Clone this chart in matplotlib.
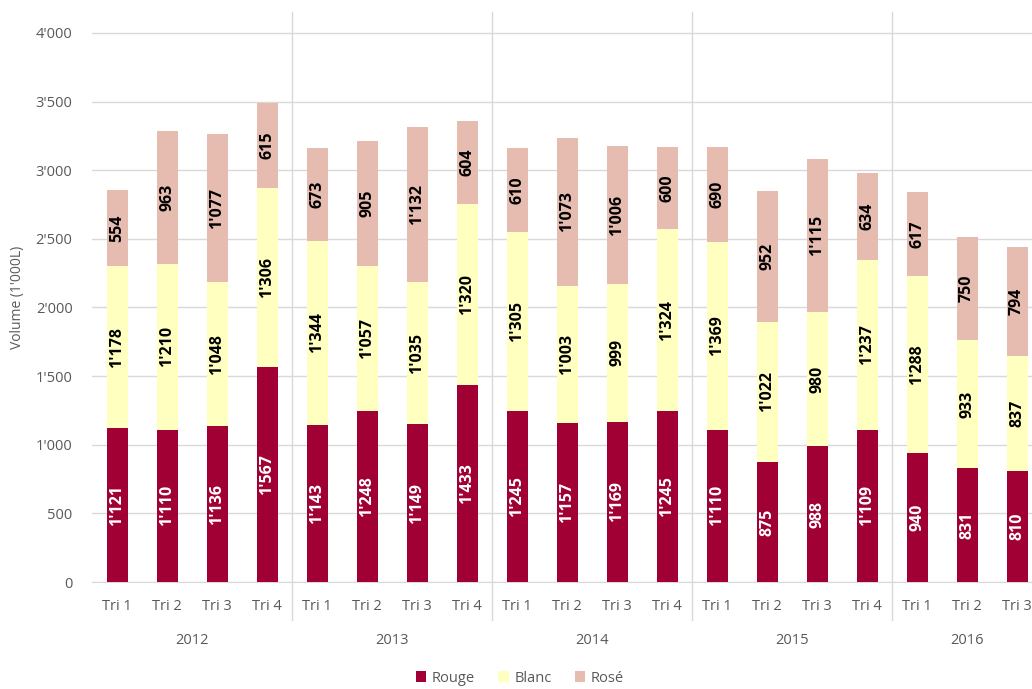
import numpy as np
import matplotlib.pyplot as plt
from matplotlib.patches import Patch
from matplotlib.transforms import blended_transform_factory

years = ["2012", "2013", "2014", "2015", "2016"]
quarters = ["Tri 1", "Tri 2", "Tri 3", "Tri 4"] * 4 + ["Tri 1", "Tri 2", "Tri 3"]

rouge = [1121, 1110, 1136, 1567, 1143, 1248, 1149, 1433, 1245, 1157,
         1169, 1245, 1110, 875, 988, 1109, 940, 831, 810]
blanc = [1178, 1210, 1048, 1306, 1344, 1057, 1035, 1320, 1305, 1003,
         999, 1324, 1369, 1022, 980, 1237, 1288, 933, 837]
rose = [554, 963, 1077, 615, 673, 905, 1132, 604, 610, 1073,
        1006, 600, 690, 952, 1115, 634, 617, 750, 794]

c_rouge, c_blanc, c_rose = "#A00034", "#FFFFC0", "#E6BCB0"
grey = "#595959"

plt.rcParams["font.family"] = ["Open Sans", "DejaVu Sans"]

fig = plt.figure(figsize=(10.32, 6.89), dpi=100)
W, H = 1032, 689
ax = fig.add_axes([92 / W, 1 - 582 / H, 940 / W, 570 / H])

x = np.arange(len(rouge))
bw = 0.42
r = np.array(rouge)
b = np.array(blanc)
s = np.array(rose)

ax.bar(x, r, bw, color=c_rouge, zorder=3)
ax.bar(x, b, bw, bottom=r, color=c_blanc, zorder=3)
ax.bar(x, s, bw, bottom=r + b, color=c_rose, zorder=3)


def fmt(v):
    return f"{v:,}".replace(",", "'")


for i in x:
    ax.text(i, r[i] / 2, fmt(r[i]), rotation=90, ha="center", va="center",
            color="white", fontsize=11.5, fontweight="bold", zorder=4)
    ax.text(i, r[i] + b[i] / 2, fmt(b[i]), rotation=90, ha="center", va="center",
            color="black", fontsize=11.5, fontweight="bold", zorder=4)
    ax.text(i, r[i] + b[i] + s[i] / 2, fmt(s[i]), rotation=90, ha="center",
            va="center", color="black", fontsize=11.5, fontweight="bold", zorder=4)

ax.set_xlim(-0.5, 18.3)
ax.set_ylim(0, 4153)
yt = np.arange(0, 4001, 500)
ax.set_yticks(yt)
ax.set_yticklabels([fmt(v) for v in yt], color=grey, fontsize=10.5)
ax.tick_params(axis="y", length=0, pad=14)
ax.set_xticks([])
ax.grid(axis="y", color="#D9D9D9", linewidth=1, zorder=0)
for sp in ["top", "right", "left"]:
    ax.spines[sp].set_visible(False)
ax.spines["bottom"].set_color("#D9D9D9")

ax.set_ylabel("Volume (1'000L)", color=grey, fontsize=10, labelpad=8)

tr = blended_transform_factory(ax.transData, ax.transAxes)
for i, q in enumerate(quarters):
    ax.text(i, -24 / 570, q, transform=tr, ha="center", va="center",
            color=grey, fontsize=10.5)

for k, yr in enumerate(years):
    start = 4 * k
    end = min(4 * k + 3, len(rouge) - 1)
    ax.text((start + end) / 2, -58 / 570, yr, transform=tr, ha="center",
            va="center", color=grey, fontsize=10.5)

for sep in [3.5, 7.5, 11.5, 15.5]:
    ax.plot([sep, sep], [-38 / 570, 1.0], transform=tr, color="#D9D9D9",
            linewidth=1, clip_on=False, zorder=1)

handles = [Patch(facecolor=c_rouge, label="Rouge"),
           Patch(facecolor=c_blanc, label="Blanc"),
           Patch(facecolor=c_rose, label="Rosé")]
leg = fig.legend(handles=handles, loc="center", ncol=3,
                 bbox_to_anchor=(520 / W, 1 - 678 / H), frameon=False,
                 fontsize=10.5, handlelength=0.7, handleheight=0.7,
                 handletextpad=0.4, columnspacing=1.6, borderpad=0.1)
for t in leg.get_texts():
    t.set_color(grey)

fig.savefig("out.png", dpi=100)
